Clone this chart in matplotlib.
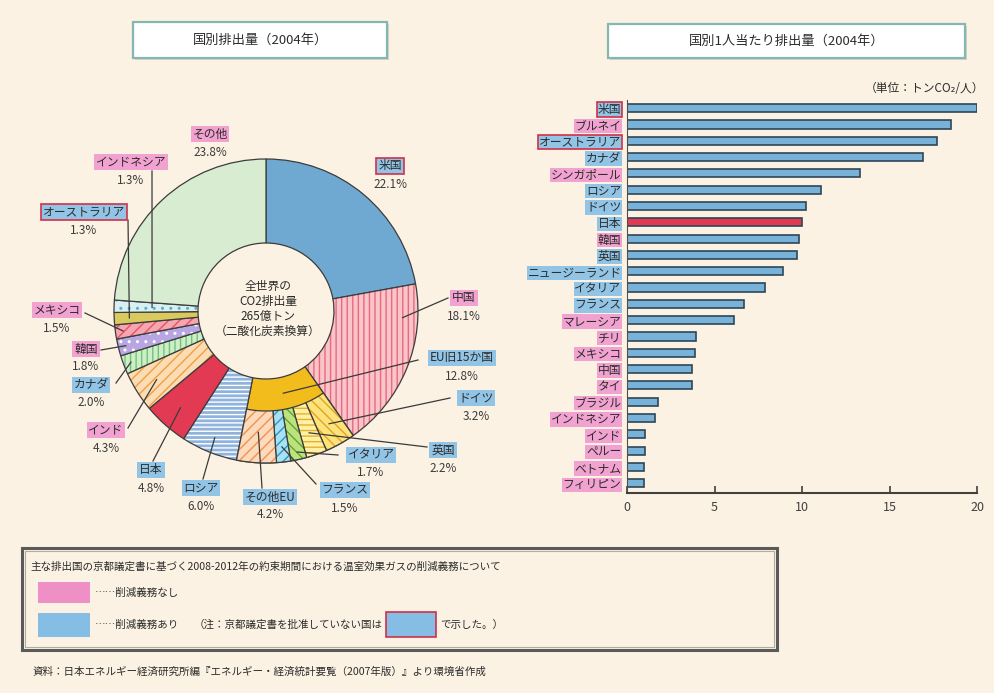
import matplotlib
matplotlib.use("Agg")
import matplotlib.pyplot as plt
import matplotlib.colors as mcolors
from matplotlib.patches import Rectangle
import numpy as np

plt.rcParams['font.family'] = ['Noto Sans CJK JP', 'DejaVu Sans']
plt.rcParams['hatch.linewidth'] = 1.0

# ---- 国別排出量（2004年）, %
pie_names = ['米国', '中国', 'EU旧15か国', 'ロシア', '日本', 'インド', 'カナダ',
             '韓国', 'メキシコ', 'オーストラリア', 'インドネシア', 'その他']
pie_vals = [22.1, 18.1, 12.8, 6.0, 4.8, 4.3, 2.0, 1.8, 1.5, 1.3, 1.3, 23.8]
eu_names = ['ドイツ', '英国', 'イタリア', 'フランス', 'その他EU']
eu_vals = [3.2, 2.2, 1.7, 1.5, 4.2]

# ---- 国別1人当たり排出量（2004年）, トンCO2/人
bar_names = ['米国', 'ブルネイ', 'オーストラリア', 'カナダ', 'シンガポール', 'ロシア',
             'ドイツ', '日本', '韓国', '英国', 'ニュージーランド', 'イタリア', 'フランス',
             'マレーシア', 'チリ', 'メキシコ', '中国', 'タイ', 'ブラジル', 'インドネシア',
             'インド', 'ペルー', 'ベトナム', 'フィリピン']
bar_vals = [20.0, 18.5, 17.7, 16.9, 13.3, 11.1, 10.25, 10.0, 9.8, 9.7, 8.9, 7.9, 6.7,
            6.1, 3.95, 3.9, 3.7, 3.7, 1.75, 1.6, 1.03, 1.0, 0.98, 0.95]

# 削減義務あり(1) / なし(0)
duty = {'米国': 1, 'ブルネイ': 0, 'オーストラリア': 1, 'カナダ': 1, 'シンガポール': 0,
        'ロシア': 1, 'ドイツ': 1, '日本': 1, '韓国': 0, '英国': 1, 'ニュージーランド': 1,
        'イタリア': 1, 'フランス': 1, 'マレーシア': 0, 'チリ': 0, 'メキシコ': 0, '中国': 0,
        'タイ': 0, 'ブラジル': 0, 'インドネシア': 0, 'インド': 0, 'ペルー': 0, 'ベトナム': 0,
        'フィリピン': 0, 'EU旧15か国': 1, 'その他EU': 1, 'その他': 0}
not_ratified = ['米国', 'オーストラリア']

BG = '#fbf2e3'
PINK = '#f2a2d0'
BLUE = '#92c4e6'
RED_EDGE = '#d0304a'
TXT = '#2c2c2c'

fig = plt.figure(figsize=(9.94, 6.93), dpi=100)
fig.patch.set_facecolor(BG)

# ---------------- pie ----------------
cx, cy, R, R_hole, R_eu = 266, 311, 152, 68, 100
half = 175
ax_pie = fig.add_axes([(cx - half) / 994, 1 - (cy + half) / 693, 2 * half / 994, 2 * half / 693])

pie_style = {
    '米国': ('#6fa9d2', None, None),
    '中国': ('#f9c4ca', '|||', '#e86a7c'),
    'EU旧15か国': ('#f2bd1c', None, None),
    'ロシア': ('#8fb3dc', '----', '#ffffff'),
    '日本': ('#e23a52', None, None),
    'インド': ('#fbdcb4', '///', '#f0a040'),
    'カナダ': ('#cdeec6', '|||', '#74c27a'),
    '韓国': ('#b7a6e2', '..', '#ffffff'),
    'メキシコ': ('#f6a6ae', '///', '#e8506a'),
    'オーストラリア': ('#d9c95e', None, None),
    'インドネシア': ('#d8f0f2', '..', '#5eb0c4'),
    'その他': ('#d8ecd2', None, None),
}
eu_style = {
    'ドイツ': ('#fde37a', '\\\\\\', '#e0a428'),
    '英国': ('#fff0a4', '---', '#e2b230'),
    'イタリア': ('#bde27a', '\\\\\\', '#5ea442'),
    'フランス': ('#a6e2f2', '///', '#3492c4'),
    'その他EU': ('#fcdabb', '///', '#f09250'),
}

def style_wedges(wedges, names, styles):
    for w, n in zip(wedges, names):
        fc, h, hc = styles[n]
        w.set_facecolor(fc)
        if h:
            w.set_hatch(h)
            w._hatch_color = mcolors.to_rgba(hc)

wedges, _ = ax_pie.pie(pie_vals, radius=R, startangle=90, counterclock=False,
                       wedgeprops=dict(width=R - R_hole, edgecolor='#3c3c3c', linewidth=0.9))
style_wedges(wedges, pie_names, pie_style)

# EU sub-wedges on the outer part of the EU slice
eu_start = 90 - 360 * sum(pie_vals[:2]) / sum(pie_vals)
rest = sum(pie_vals) - sum(eu_vals)
eu_wedges, _ = ax_pie.pie(eu_vals + [rest], radius=R, startangle=eu_start, counterclock=False,
                          wedgeprops=dict(width=R - R_eu, edgecolor='#3c3c3c', linewidth=0.9))
style_wedges(eu_wedges[:-1], eu_names, eu_style)
eu_wedges[-1].set_visible(False)

ax_pie.set_xlim(-half, half)
ax_pie.set_ylim(-half, half)
ax_pie.set_aspect('equal')
ax_pie.axis('off')

# angle ranges of wedges (degrees, math convention)
def angle_ranges(vals, start):
    tot = sum(pie_vals)
    out, a = [], start
    for v in vals:
        b = a - 360 * v / tot
        out.append((a, b))
        a = b
    return out

ranges = dict(zip(pie_names, angle_ranges(pie_vals, 90)))
ranges.update(dict(zip(eu_names, angle_ranges(eu_vals, eu_start))))
pcts = dict(zip(pie_names, pie_vals))
pcts.update(dict(zip(eu_names, eu_vals)))

# ---------------- bars ----------------
ax_bar = fig.add_axes([627 / 994, 1 - 493 / 693, 350 / 994, 393 / 693])
ax_bar.set_facecolor('none')
y = np.arange(len(bar_names))
bar_colors = ['#e23a52' if n == '日本' else '#78b2d8' for n in bar_names]
ax_bar.barh(y, bar_vals, height=0.5, color=bar_colors, edgecolor='#2e4656', linewidth=1.2)
ax_bar.set_xlim(0, 20)
ax_bar.set_ylim(23.6, -0.5)
ax_bar.set_xticks([0, 5, 10, 15, 20])
ax_bar.tick_params(axis='x', direction='in', length=5, width=1.2, colors='#404040',
                   labelsize=9, pad=6)
ax_bar.set_yticks(y)
ax_bar.set_yticklabels(bar_names, fontsize=8.5)
ax_bar.tick_params(axis='y', length=0, pad=4, colors=TXT)
for lab, n in zip(ax_bar.get_yticklabels(), bar_names):
    ec = RED_EDGE if n in not_ratified else 'none'
    lab.set_bbox(dict(boxstyle='square,pad=0.06', fc=BLUE if duty[n] else PINK, ec=ec, lw=1.2))
for s in ['top', 'right']:
    ax_bar.spines[s].set_visible(False)
ax_bar.spines['left'].set_color('#505050')
ax_bar.spines['bottom'].set_color('#404040')
ax_bar.spines['bottom'].set_linewidth(1.5)

# ---------------- overlay (labels, boxes) ----------------
ov = fig.add_axes([0, 0, 1, 1])
ov.set_xlim(0, 994)
ov.set_ylim(693, 0)
ov.axis('off')

# title boxes
for (x0, y0, x1, y1, t) in [(133, 22, 387, 58, '国別排出量（2004年）'),
                            (608, 24, 965, 58, '国別1人当たり排出量（2004年）')]:
    ov.add_patch(Rectangle((x0 + 2, y0 + 2), x1 - x0, y1 - y0, fc='#d9d4c8', ec='none'))
    ov.add_patch(Rectangle((x0, y0), x1 - x0, y1 - y0, fc='white', ec='#86b6b2', lw=1.6))
    ov.text((x0 + x1) / 2, (y0 + y1) / 2, t, ha='center', va='center', fontsize=9.5, color=TXT)

ov.text(984, 88, '（単位：トンCO₂/人）', ha='right', va='center', fontsize=8.5, color=TXT)

# centre text
ov.text(cx + 2, cy - 2, '全世界の\nCO2排出量\n265億トン\n（二酸化炭素換算）', ha='center', va='center',
        fontsize=8.5, color=TXT, linespacing=1.2)

# pie labels: name -> (box x, box y, line start x, line start y, frac along wedge, radius frac)
pie_labels = {
    'その他': (210, 134, None, None, 0, 0),
    '米国': (390, 166, None, None, 0, 0),
    'インドネシア': (131, 162, 152, 171, 0.5, 0.75),
    'オーストラリア': (84, 212, 128, 220, 0.5, 0.9),
    'メキシコ': (57, 310, 85, 313, 0.5, 0.95),
    '韓国': (86, 349, 101, 350, 0.5, 0.95),
    'カナダ': (91, 385, 116, 383, 0.5, 0.95),
    'インド': (106, 430, 128, 428, 0.5, 0.85),
    '日本': (151, 470, 153, 461, 0.5, 0.85),
    'ロシア': (201, 488, 203, 479, 0.5, 0.9),
    'その他EU': (270, 497, 262, 488, 0.5, 0.8),
    'フランス': (345, 490, 316, 484, 0.5, 0.9),
    'イタリア': (371, 455, 338, 455, 0.5, 0.95),
    '英国': (443, 450, 427, 447, 0.5, 0.85),
    'ドイツ': (476, 398, 450, 398, 0.5, 0.85),
    'EU旧15か国': (462, 358, 418, 360, 0.5, (R_hole + R_eu) / 2 / R),
    '中国': (464, 298, 448, 298, 0.2, 0.9),
}
for n, (bx, by, lx, ly, fr, rf) in pie_labels.items():
    if lx is not None:
        a0, a1 = ranges[n]
        ang = np.radians(a0 + (a1 - a0) * fr)
        ax_ = cx + rf * R * np.cos(ang)
        ay_ = cy - rf * R * np.sin(ang)
        ov.plot([lx, ax_], [ly, ay_], color='#3a3a3a', lw=0.9, zorder=3)
    ec = RED_EDGE if n in not_ratified else 'none'
    ov.text(bx, by, n, ha='center', va='center', fontsize=8.5, color=TXT, zorder=4,
            bbox=dict(boxstyle='square,pad=0.15', fc=BLUE if duty[n] else PINK, ec=ec, lw=1.2))
    ov.text(bx, by + 18, f'{pcts[n]:.1f}%', ha='center', va='center', fontsize=8.5,
            color='#3c3c3c', zorder=4)

# legend box
ov.add_patch(Rectangle((22, 548), 755, 102, fc='none', ec='#5a5a5a', lw=2.2))
ov.add_patch(Rectangle((25, 551), 749, 96, fc='none', ec='#b0aca0', lw=0.8))
ov.text(30, 567, '主な排出国の京都議定書に基づく2008-2012年の約束期間における温室効果ガスの削減義務について',
        ha='left', va='center', fontsize=7.6, color=TXT)
ov.add_patch(Rectangle((38, 582), 52, 21, fc='#ee90c6', ec='none'))
ov.add_patch(Rectangle((38, 613), 52, 24, fc='#86bde4', ec='none'))
ov.text(95, 593, '……削減義務なし', ha='left', va='center', fontsize=7.6, color=TXT)
ov.text(95, 625, '……削減義務あり', ha='left', va='center', fontsize=7.6, color=TXT)
ov.text(383, 625, '（注：京都議定書を批准していない国は', ha='right', va='center', fontsize=7.6,
        color=TXT)
ov.add_patch(Rectangle((386, 612), 50, 25, fc='#86bde4', ec=RED_EDGE, lw=1.2))
ov.text(440, 625, 'で示した。）', ha='left', va='center', fontsize=7.6, color=TXT)

ov.text(33, 672, '資料：日本エネルギー経済研究所編『エネルギー・経済統計要覧（2007年版）』より環境省作成',
        ha='left', va='center', fontsize=7.6, color=TXT)

fig.savefig('out.png', dpi=100, facecolor=BG)
